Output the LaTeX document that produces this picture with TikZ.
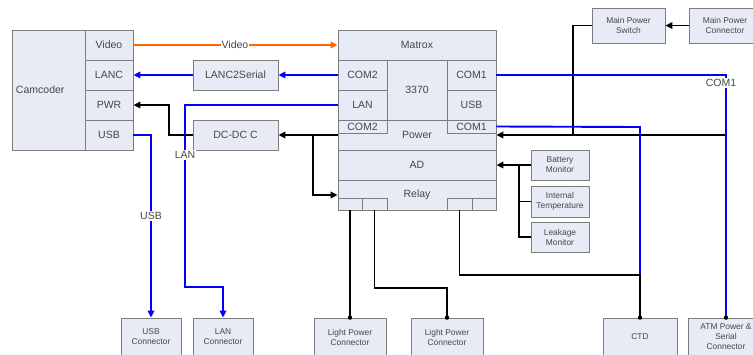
\documentclass[tikz,border=0pt]{standalone}
\usepackage{fontspec}
\setmainfont{Liberation Sans}
\usetikzlibrary{arrows.meta}

\definecolor{fond}{RGB}{230,235,245}
\definecolor{bordure}{RGB}{125,125,125}
\definecolor{texte}{RGB}{70,70,70}
\definecolor{orangevideo}{RGB}{255,102,0}

\tikzset{
  boite/.style={draw=bordure, fill=fond, text=texte, inner sep=0pt, line width=0.8pt,
    align=center, font=\fontsize{10.5}{12}\selectfont},
  petite/.style={boite, font=\fontsize{8.4}{10}\selectfont},
  etiq/.style={fill=white, inner sep=1pt, text=texte, font=\fontsize{10.5}{12}\selectfont},
  bleu/.style={draw=blue, line width=1.9pt},
  noir/.style={draw=black, line width=1.9pt},
}

\begin{document}
\begin{tikzpicture}[x=1pt, y=-1pt, >={Triangle[length=7pt,width=6.5pt]}]
        \useasboundingbox (0,0) rectangle (753,354);

        % Camescope
        \node[boite, minimum width=73pt, minimum height=120pt, text width=65pt, align=left] (cam) at (48.5,90) {Camcoder};
        \node[boite, minimum width=48pt, minimum height=30pt] (vid) at (109,45) {Video};
        \node[boite, minimum width=48pt, minimum height=30pt] (lanc) at (109,75) {LANC};
        \node[boite, minimum width=48pt, minimum height=30pt] (pwr) at (109,105) {PWR};
        \node[boite, minimum width=48pt, minimum height=30pt] (usb) at (109,135) {USB};

        % Convertisseurs
        \node[boite, minimum width=85pt, minimum height=30pt] (l2s) at (235.5,75) {LANC2Serial};
        \node[boite, minimum width=85pt, minimum height=30pt] (dcdc) at (235.5,135) {DC-DC C};

        % Carte Matrox
        \node[boite, minimum width=158pt, minimum height=30pt] (mtx) at (417,45) {Matrox};
        \node[boite, minimum width=49pt, minimum height=30pt] (com2a) at (362.5,75) {COM2};
        \node[boite, minimum width=49pt, minimum height=30pt] (lan) at (362.5,105) {LAN};
        \node[boite, minimum width=60pt, minimum height=60pt] (cpu) at (417,90) {3370};
        \node[boite, minimum width=49pt, minimum height=30pt] (com1a) at (471.5,75) {COM1};
        \node[boite, minimum width=49pt, minimum height=30pt] (usbm) at (471.5,105) {USB};
        \node[boite, minimum width=158pt, minimum height=30pt] (power) at (417,135) {Power};
        \node[boite, minimum width=49pt, minimum height=13pt] (com2b) at (362.5,126.5) {COM2};
        \node[boite, minimum width=49pt, minimum height=13pt] (com1b) at (471.5,126.5) {COM1};
        \node[boite, minimum width=158pt, minimum height=30pt] (ad) at (417,165) {AD};
        \node[boite, minimum width=158pt, minimum height=30pt] (relay) at (417,195) {\raisebox{2pt}{Relay}};
        \node[boite, minimum width=24pt, minimum height=12pt] (r1) at (350,204) {};
        \node[boite, minimum width=25pt, minimum height=12pt] (r2) at (374.5,204) {};
        \node[boite, minimum width=25pt, minimum height=12pt] (r3) at (459.5,204) {};
        \node[boite, minimum width=24pt, minimum height=12pt] (r4) at (484,204) {};

        % Alimentation principale
        \node[petite, minimum width=73pt, minimum height=35pt] (mps) at (628.5,25.5) {Main Power\\Switch};
        \node[petite, minimum width=72pt, minimum height=35pt] (mpc) at (725,25.5) {Main Power\\Connector};

        % Capteurs internes
        \node[petite, minimum width=58pt, minimum height=30pt] (bat) at (560,165) {Battery\\Monitor};
        \node[petite, minimum width=58pt, minimum height=31pt] (temp) at (560,201.5) {Internal\\Temperature};
        \node[petite, minimum width=58pt, minimum height=30pt] (leak) at (560,237) {Leakage\\Monitor};

        % Connecteurs du bas
        \node[petite, minimum width=60pt, minimum height=38pt] (cusb) at (151,337) {USB\\Connector};
        \node[petite, minimum width=60pt, minimum height=38pt] (clan) at (223,337) {LAN\\Connector};
        \node[petite, minimum width=72pt, minimum height=38pt] (clp1) at (350,337) {Light Power\\Connector};
        \node[petite, minimum width=72pt, minimum height=38pt] (clp2) at (447,337) {Light Power\\Connector};
        \node[petite, minimum width=74pt, minimum height=38pt] (cctd) at (640,337) {CTD};
        \node[petite, minimum width=76pt, minimum height=38pt] (catm) at (726,337) {ATM Power \&\\Serial\\Connector};

        % Video et liaisons serie
        \draw[orangevideo, line width=1.9pt, ->] (vid.east) -- (mtx.west);
        \node[etiq] (lvid) at (235,45) {Video};
        \draw[bleu, ->] (com2a.west) -- (l2s.east);
        \draw[bleu, ->] (l2s.west) -- (lanc.east);
        \draw[bleu, ->] (lan.west) -- (185,105) -- (185,287) -| (clan.north);
        \node[etiq] (llan) at (185,155) {LAN};
        \draw[bleu, ->] (usb.east) -| (cusb.north);
        \node[etiq] (lusb) at (151,216) {USB};

        % Alimentation
        \coordinate (bif) at (313,135);
        \coordinate (atmp) at (726,135);
        \draw[noir, ->] (dcdc.west) -- (169,135) |- (pwr.east);
        \draw[noir, ->] (power.west) -- (dcdc.east);
        \draw[noir, ->] (bif) |- (relay.west);
        \draw[noir, ->] (mpc.west) -- (mps.east);
        \draw[noir] (mps.west) -| (573,135);
        \draw[noir, ->] (atmp) -- (power.east);

        % COM1 vers ATM et CTD
        \draw[bleu] (com1a.east) -- (726,75) -- (catm.north);
        \node[etiq] (lcom1) at (721,83) {COM1};
        \draw[bleu] (com1b.east) -- (640,127) -- (640,275);
        \draw[noir] (r3.south) |- (640,275) -- (cctd.north);

        % Eclairage
        \draw[noir] (r1.south) -- (clp1.north);
        \draw[noir] (r2.south) |- (447,288) -- (clp2.north);

        % Capteurs vers AD
        \draw[noir, ->] (bat.west) -- (ad.east);
        \draw[noir] (519,165) |- (leak.west);
        \draw[noir] (temp.west) -- (519,201.5);

        % Points de connexion
        \fill (clp1.north) circle (2.2pt);
        \fill (clp2.north) circle (2.2pt);
        \fill (cctd.north) circle (2.2pt);
        \fill (catm.north) circle (2.2pt);

    \end{tikzpicture}
\end{document}
